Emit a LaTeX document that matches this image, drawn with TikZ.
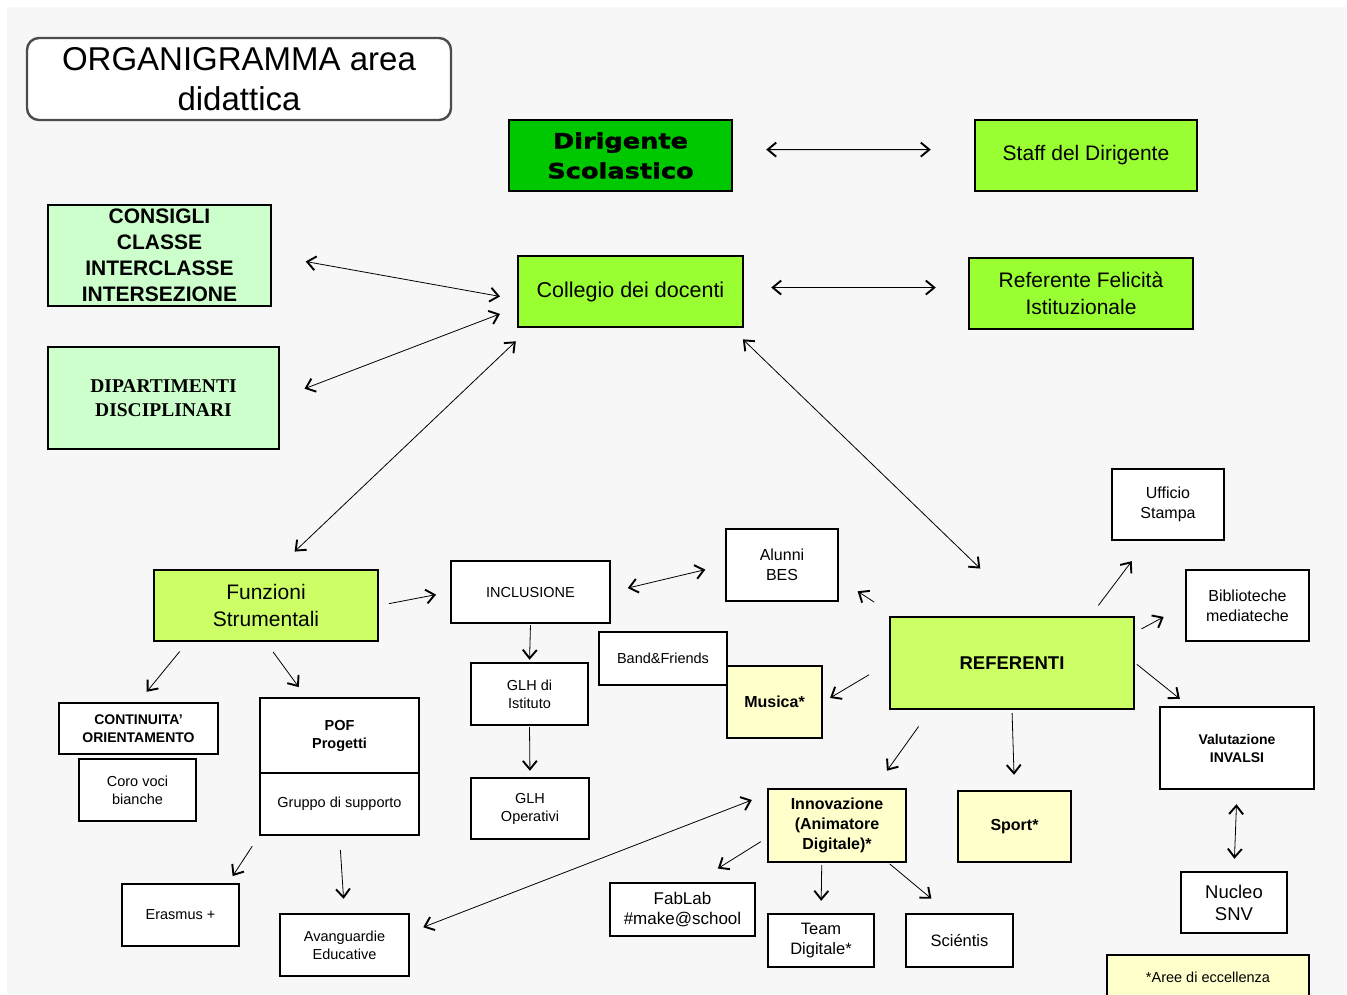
\documentclass[tikz,border=0pt]{standalone}
\usepackage{fontspec}
\setmainfont{Liberation Sans}
\newfontfamily\heavyfont[FakeStretch=1.22,FakeBold=1.6]{DejaVu Sans}
\newfontfamily\romanfont{Liberation Serif}
\usetikzlibrary{arrows.meta}
\definecolor{bggray}{HTML}{F7F7F7}
\definecolor{dirgreen}{HTML}{00C800}
\definecolor{brightlime}{HTML}{99FF33}
\definecolor{softlime}{HTML}{CCFF66}
\definecolor{palegreen}{HTML}{CCFFCC}
\definecolor{paleyellow}{HTML}{FFFFCC}
\begin{document}
\begin{tikzpicture}[x=1pt,y=-1pt,
	box/.style={draw,line width=2.4pt,inner sep=0pt,align=center,fill=white},
	link/.style={line width=0.8pt,>={Straight Barb[length=8.5pt,width=14pt,line width=1.9pt]}},
	big/.style={font=\fontsize{21}{27}\selectfont},
	mid/.style={font=\fontsize{16}{20}\selectfont},
	small/.style={font=\fontsize{14.5}{18}\selectfont},
	midb/.style={font=\fontsize{16}{20}\selectfont\bfseries},
	smallb/.style={font=\fontsize{14}{18}\selectfont\bfseries}]
	\useasboundingbox (0,0) rectangle (1347,994);
	\fill[white] (0,0) rectangle (1347,994);
	\fill[bggray] (7,7) rectangle (1347,994);

	\node[box,minimum width=424pt,minimum height=82pt,draw=black!70,rounded corners=12pt,
		font=\fontsize{33}{40}\selectfont] (title) at (239,79) {ORGANIGRAMMA area\\didattica};

	\node[box,fill=dirgreen,minimum width=223pt,minimum height=71pt,font=\heavyfont\bfseries\fontsize{21}{30}\selectfont]
		(dir) at (620.5,155.5) {Dirigente\\Scolastico};
	\node[box,fill=brightlime,minimum width=222pt,minimum height=71pt,big] (staff) at (1086,155.5) {Staff del Dirigente};
	\node[box,fill=palegreen,minimum width=223pt,minimum height=101pt,font=\fontsize{21}{26}\selectfont\bfseries]
		(cons) at (159.5,255.5) {CONSIGLI\\CLASSE\\INTERCLASSE\\INTERSEZIONE};
	\node[box,fill=palegreen,minimum width=231pt,minimum height=102pt,font=\romanfont\bfseries\fontsize{19.5}{24}\selectfont]
		(dip) at (163.5,398) {DIPARTIMENTI\\DISCIPLINARI};
	\node[box,fill=brightlime,minimum width=225pt,minimum height=71pt,font=\fontsize{21.5}{27}\selectfont] (coll) at (630.5,291.5) {Collegio dei docenti};
	\node[box,fill=brightlime,minimum width=224pt,minimum height=71pt,big] (felic) at (1081,293.5) {Referente Felicità\\Istituzionale};

	\node[box,fill=softlime,minimum width=224pt,minimum height=71pt,big] (funz) at (266,605.5) {Funzioni\\Strumentali};
	\node[box,minimum width=159pt,minimum height=62pt,small] (incl) at (530.5,592) {INCLUSIONE};
	\node[box,minimum width=112pt,minimum height=72pt,mid] (bes) at (782,565) {Alunni\\BES};
	\node[box,minimum width=128pt,minimum height=53pt,small] (band) at (663,658.5) {Band\&Friends};
	\node[box,fill=paleyellow,minimum width=95pt,minimum height=72pt,midb] (mus) at (774.5,702) {Musica*};
	\node[box,fill=softlime,minimum width=244pt,minimum height=92pt,font=\fontsize{18.5}{22}\selectfont\bfseries]
		(ref) at (1012,663) {REFERENTI};
	\node[box,minimum width=112pt,minimum height=71pt,mid] (uff) at (1168,504.5) {Ufficio\\Stampa};
	\node[box,minimum width=123pt,minimum height=71pt,mid] (bib) at (1247.5,605.5) {Biblioteche\\mediateche};
	\node[box,minimum width=154pt,minimum height=82pt,smallb] (val) at (1237,748) {Valutazione\\INVALSI};
	\node[box,minimum width=106pt,minimum height=61pt,font=\fontsize{18.5}{22}\selectfont] (nuc) at (1234,902.5) {Nucleo\\SNV};
	\node[box,fill=paleyellow,minimum width=202pt,minimum height=44pt,small] (aree) at (1208,977) {*Aree di eccellenza};

	\node[box,minimum width=117pt,minimum height=62pt,small] (glha) at (529.5,694) {GLH di\\Istituto};
	\node[box,minimum width=118pt,minimum height=61pt,small] (glhb) at (530,808.5) {GLH\\Operativi};
	\node[box,minimum width=159pt,minimum height=51pt,smallb] (cont) at (138.5,728.5) {CONTINUITA'\\ORIENTAMENTO};
	\node[box,minimum width=117pt,minimum height=62pt,small] (coro) at (137.5,790) {Coro voci\\bianche};
	\node[box,minimum width=159pt,minimum height=75pt,font=\fontsize{14.5}{18}\selectfont\bfseries] (pofa) at (339.5,735.5) {POF\\Progetti};
	\node[box,minimum width=159pt,minimum height=62pt,small] (pofb) at (339.5,804) {Gruppo di supporto};
	\node[box,minimum width=117pt,minimum height=62pt,small] (eras) at (180.5,915) {Erasmus +};
	\node[box,minimum width=129pt,minimum height=62pt,small] (avan) at (344.5,945) {Avanguardie\\Educative};

	\node[box,fill=paleyellow,minimum width=138pt,minimum height=73pt,midb] (inno) at (837,825.5) {Innovazione\\(Animatore\\Digitale)*};
	\node[box,fill=paleyellow,minimum width=113pt,minimum height=71pt,midb] (sport) at (1014.5,826.5) {Sport*};
	\node[box,minimum width=145pt,minimum height=53pt,font=\fontsize{17}{20}\selectfont] (fab) at (682.5,909.5) {FabLab\\\#make@school};
	\node[box,minimum width=106pt,minimum height=53pt,font=\fontsize{16.5}{20}\selectfont] (team) at (821,940.5) {Team\\Digitale*};
	\node[box,minimum width=107pt,minimum height=53pt,font=\fontsize{16.5}{20}\selectfont] (sci) at (959.5,940.5) {Sciéntis};

	\draw[link,<->,shorten <=33pt,shorten >=43pt] (dir.3) -- (staff.177);
	\draw[link,<->,shorten <=27pt,shorten >=32pt] (coll.2) -- (felic.177);
	\draw[link,<->,shorten <=34pt,shorten >=17pt] (cons.east) -- (coll.184);
	\draw[link,<->,shorten <=26pt,shorten >=18pt] (dip.east) -- (coll.188);
	\draw[link,<->,shorten <=19pt,shorten >=25pt] (coll.-160) -- (funz.74);
	\draw[link,<->,shorten <=16pt,shorten >=68pt] (coll.-20.5) -- (ref.70);

	\draw[link,->,shorten <=10pt,shorten >=14pt] (funz.east) -- (incl.west);
	\draw[link,<->,shorten <=17pt,shorten >=20pt] (incl.east) -- (bes.west);
	\draw[link,->,shorten <=1pt,shorten >=2pt] (incl.south) -- (glha.north);
	\draw[link,->,shorten <=1pt,shorten >=6pt] (glha.south) -- (glhb.north);

	\draw[link,->,shorten <=25pt,shorten >=22pt] (ref.158) -- (bes.-14);
	\draw[link,->,shorten <=23pt,shorten >=8pt] (ref.west) -- (mus.east);
	\draw[link,->,shorten <=13pt,shorten >=25pt] (ref.31) -- (uff.240);
	\draw[link,->,shorten <=7pt,shorten >=24pt] (ref.14) -- (bib.west);
	\draw[link,->,shorten <=2pt,shorten >=11pt] (ref.east) -- (val.139);
	\draw[link,->,shorten <=20pt,shorten >=21pt] (ref.-150) -- (inno.45);
	\draw[link,->,shorten <=3pt,shorten >=15pt] (ref.south) -- (sport.north);
	\draw[link,<->,shorten <=14pt,shorten >=12pt] (val.south) -- (nuc.north);

	\draw[link,->,shorten <=12pt,shorten >=13pt] (funz.205) -- (cont.north);
	\draw[link,->,shorten <=12pt,shorten >=12pt] (funz.south) -- (pofa.131);
	\draw[link,->,shorten <=12pt,shorten >=8pt] (pofb.south west) -- (eras.34);
	\draw[link,->,shorten <=14pt,shorten >=14pt] (pofb.south) -- (avan.north);

	\draw[link,<->,shorten <=16pt,shorten >=14pt] (inno.156) -- (avan.11);
	\draw[link,->,shorten <=7pt,shorten >=25pt] (inno.190) -- (fab.63);
	\draw[link,->,shorten <=2pt,shorten >=12pt] (inno.-112) -- (team.north);
	\draw[link,->,shorten <=1pt,shorten >=22pt] (inno.-36) -- (sci.112);
\end{tikzpicture}
\end{document}
